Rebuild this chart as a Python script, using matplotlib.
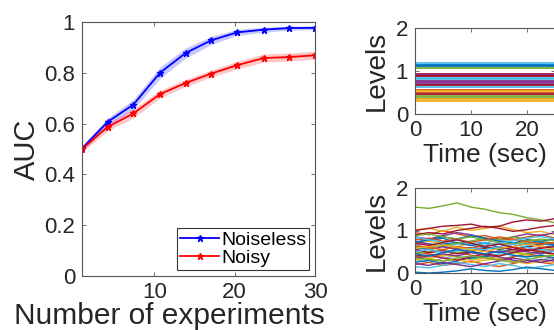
import numpy as np
import matplotlib
matplotlib.use("Agg")
import matplotlib.pyplot as plt

plt.rcParams['font.family'] = ['Liberation Sans', 'DejaVu Sans']

# AUC vs number of experiments
n_exp = [1, 4.2, 7.4, 10.7, 13.9, 17.1, 20.3, 23.6, 26.8, 30]
auc_clean = [0.502, 0.607, 0.675, 0.800, 0.878, 0.928, 0.959, 0.970, 0.976, 0.977]
auc_clean_err = [0.012, 0.015, 0.020, 0.022, 0.020, 0.016, 0.012, 0.010, 0.008, 0.008]
auc_noisy = [0.500, 0.587, 0.640, 0.716, 0.760, 0.797, 0.830, 0.858, 0.862, 0.869]
auc_noisy_err = [0.012, 0.015, 0.018, 0.015, 0.014, 0.014, 0.015, 0.016, 0.016, 0.016]

# constant levels (top right) and drifting levels (bottom right)
const_levels = [1.18, 1.15, 1.12, 1.06, 0.94, 0.91, 0.88, 0.84, 0.81, 0.77, 0.74,
                0.70, 0.67, 0.62, 0.56, 0.53, 0.50, 0.46, 0.42, 0.38, 0.34, 0.30]
const_color_idx = [5, 0, 0, 4, 6, 3, 6, 5, 5, 3, 3, 3, 6, 5, 1, 2, 1, 6, 4, 4, 2, 2]

walk_time = [0, 2.5, 5, 7.5, 10, 12.5, 15, 17.5, 20, 22.5, 25, 27.5, 30]
walk_levels = [
    [0.80, 0.75, 0.82, 0.70, 0.65, 0.72, 0.60, 0.55, 0.62, 0.70, 0.66, 0.60, 0.58],
    [0.95, 0.90, 1.00, 0.92, 0.85, 0.88, 0.80, 0.78, 0.85, 0.90, 0.82, 0.78, 0.75],
    [1.02, 1.05, 0.98, 1.08, 1.00, 1.05, 1.10, 1.02, 0.95, 0.98, 0.90, 0.92, 0.88],
    [0.60, 0.55, 0.62, 0.58, 0.50, 0.45, 0.52, 0.48, 0.55, 0.60, 0.65, 0.58, 0.62],
    [1.55, 1.52, 1.58, 1.65, 1.55, 1.50, 1.42, 1.38, 1.30, 1.25, 1.18, 1.15, 1.12],
    [0.30, 0.25, 0.35, 0.40, 0.32, 0.38, 0.45, 0.42, 0.35, 0.30, 0.38, 0.42, 0.40],
    [1.00, 1.05, 1.10, 1.12, 1.15, 1.08, 1.10, 1.20, 1.25, 1.22, 1.28, 1.25, 1.20],
    [0.25, 0.30, 0.22, 0.28, 0.35, 0.40, 0.32, 0.38, 0.45, 0.50, 0.42, 0.48, 0.52],
    [0.50, 0.45, 0.40, 0.48, 0.42, 0.35, 0.30, 0.38, 0.45, 0.40, 0.35, 0.42, 0.38],
    [0.70, 0.75, 0.68, 0.62, 0.70, 0.65, 0.72, 0.78, 0.70, 0.65, 0.72, 0.68, 0.75],
    [0.85, 0.80, 0.88, 0.95, 0.90, 0.82, 0.78, 0.85, 0.92, 0.88, 0.95, 0.90, 0.85],
    [0.45, 0.50, 0.55, 0.48, 0.52, 0.60, 0.55, 0.50, 0.45, 0.52, 0.58, 0.55, 0.50],
    [0.65, 0.70, 0.62, 0.68, 0.75, 0.70, 0.78, 0.72, 0.65, 0.70, 0.62, 0.66, 0.70],
    [0.90, 0.95, 0.92, 1.00, 1.05, 1.10, 1.05, 0.98, 1.02, 1.08, 1.12, 1.05, 1.00],
    [0.55, 0.60, 0.68, 0.72, 0.65, 0.60, 0.55, 0.62, 0.70, 0.75, 0.80, 0.72, 0.68],
    [0.20, 0.25, 0.18, 0.22, 0.28, 0.20, 0.15, 0.22, 0.30, 0.25, 0.20, 0.28, 0.32],
    [0.40, 0.35, 0.42, 0.38, 0.30, 0.35, 0.40, 0.48, 0.42, 0.38, 0.45, 0.50, 0.46],
    [0.75, 0.68, 0.62, 0.55, 0.60, 0.52, 0.48, 0.55, 0.50, 0.45, 0.52, 0.48, 0.44],
    [0.62, 0.58, 0.65, 0.70, 0.75, 0.82, 0.78, 0.85, 0.80, 0.75, 0.70, 0.78, 0.74],
    [0.15, 0.12, 0.18, 0.25, 0.20, 0.15, 0.22, 0.18, 0.10, 0.15, 0.20, 0.16, 0.22],
    [0.55, 0.48, 0.52, 0.45, 0.50, 0.58, 0.62, 0.55, 0.60, 0.68, 0.72, 0.65, 0.70],
    [0.72, 0.78, 0.85, 0.80, 0.88, 0.82, 0.75, 0.70, 0.78, 0.72, 0.65, 0.70, 0.75],
    [0.65, 0.60, 0.55, 0.62, 0.58, 0.65, 0.70, 0.62, 0.55, 0.50, 0.55, 0.60, 0.55],
    [0.30, 0.35, 0.28, 0.32, 0.25, 0.30, 0.35, 0.28, 0.22, 0.28, 0.25, 0.30, 0.26],
    [0.35, 0.40, 0.45, 0.40, 0.48, 0.42, 0.38, 0.30, 0.25, 0.32, 0.28, 0.35, 0.30],
    [0.88, 0.92, 0.85, 0.80, 0.85, 0.78, 0.72, 0.68, 0.75, 0.80, 0.76, 0.72, 0.78],
    [0.50, 0.55, 0.48, 0.52, 0.58, 0.55, 0.62, 0.68, 0.60, 0.55, 0.50, 0.56, 0.60],
    [0.40, 0.42, 0.35, 0.30, 0.38, 0.45, 0.40, 0.48, 0.55, 0.50, 0.45, 0.52, 0.48],
    [0.45, 0.40, 0.48, 0.55, 0.50, 0.45, 0.50, 0.42, 0.38, 0.42, 0.35, 0.40, 0.45],
    [0.78, 0.82, 0.75, 0.80, 0.72, 0.78, 0.85, 0.80, 0.74, 0.68, 0.72, 0.66, 0.70],
    [0.58, 0.62, 0.66, 0.60, 0.55, 0.50, 0.58, 0.62, 0.68, 0.62, 0.58, 0.64, 0.60],
    [0.22, 0.18, 0.25, 0.20, 0.15, 0.22, 0.28, 0.35, 0.30, 0.25, 0.32, 0.28, 0.34],
    [0.35, 0.32, 0.28, 0.35, 0.40, 0.36, 0.30, 0.25, 0.32, 0.38, 0.42, 0.36, 0.40],
    [0.85, 0.78, 0.72, 0.78, 0.70, 0.65, 0.70, 0.76, 0.82, 0.86, 0.80, 0.75, 0.80],
    [0.70, 0.65, 0.72, 0.78, 0.70, 0.62, 0.68, 0.60, 0.52, 0.58, 0.62, 0.56, 0.60],
    [0.02, 0.00, 0.02, 0.05, 0.10, 0.06, 0.04, 0.08, 0.14, 0.10, 0.06, 0.10, 0.12],
]

# matlab default line colours
mcolors = ['#0072BD', '#D95319', '#EDB120', '#7E2F8E', '#77AC30', '#4DBEEE', '#A2142F']
axcol = '#555555'
txtcol = '#262626'

W, H = 554, 330
fig = plt.figure(figsize=(W / 100, H / 100), dpi=100)


def box(l, t, r, b):
    return [l / W, 1 - b / H, (r - l) / W, (b - t) / H]


def style(ax, fs):
    for s in ax.spines.values():
        s.set_color(axcol)
        s.set_linewidth(0.8)
    ax.tick_params(direction='in', length=3, width=0.6, color=axcol,
                   labelsize=fs, labelcolor=txtcol, top=True, right=True)
    ax.tick_params(axis='x', pad=4)
    ax.tick_params(axis='y', pad=5)


# left: AUC curves
ax = fig.add_axes(box(82, 22, 315, 276))
t = np.array(n_exp)
for y, e, c, lab in [(auc_clean, auc_clean_err, 'blue', 'Noiseless'),
                     (auc_noisy, auc_noisy_err, 'red', 'Noisy')]:
    y = np.array(y)
    e = np.array(e)
    ax.fill_between(t, y - e, y + e, color=c, alpha=0.22, lw=0)
    ax.plot(t, y, color=c, lw=1.3, marker='*', ms=5, label=lab)
ax.set_xlim(1, 30)
ax.set_ylim(0, 1)
ax.set_xticks([10, 20, 30])
ax.set_yticks([0, 0.2, 0.4, 0.6, 0.8, 1])
ax.set_yticklabels(['0', '0.2', '0.4', '0.6', '0.8', '1'])
style(ax, 16)
ax.set_xlabel('Number of experiments', fontsize=21.5, color=txtcol)
ax.xaxis.set_label_coords(0.375, -0.102)
ax.set_ylabel('AUC', fontsize=21, color=txtcol, labelpad=2)
leg = ax.legend(loc='lower right', fontsize=14, frameon=True, fancybox=False,
                borderpad=0.15, handlelength=2.0, handletextpad=0.1,
                labelspacing=0.05, borderaxespad=0.3)
leg.get_frame().set_edgecolor('black')
leg.get_frame().set_linewidth(0.8)

# top right: constant levels
ax2 = fig.add_axes(box(415, 28, 555, 114))
for lv, ci in zip(const_levels, const_color_idx):
    ax2.plot([0, 30], [lv, lv], color=mcolors[ci], lw=1.3)

# bottom right: drifting levels
ax3 = fig.add_axes(box(415, 188, 555, 273))
for i, lv in enumerate(walk_levels):
    ax3.plot(walk_time, lv, color=mcolors[i % 7], lw=1.0)

for a in (ax2, ax3):
    a.set_xlim(0, 25)
    a.set_ylim(0, 2)
    a.set_xticks([0, 10, 20])
    a.set_yticks([0, 1, 2])
    style(a, 16)
    a.spines['right'].set_visible(False)
    a.set_xlabel('Time (sec)', fontsize=19, color=txtcol, labelpad=2)
    a.set_ylabel('Levels', fontsize=20, color=txtcol, labelpad=4)

fig.savefig('out.png', dpi=100)
